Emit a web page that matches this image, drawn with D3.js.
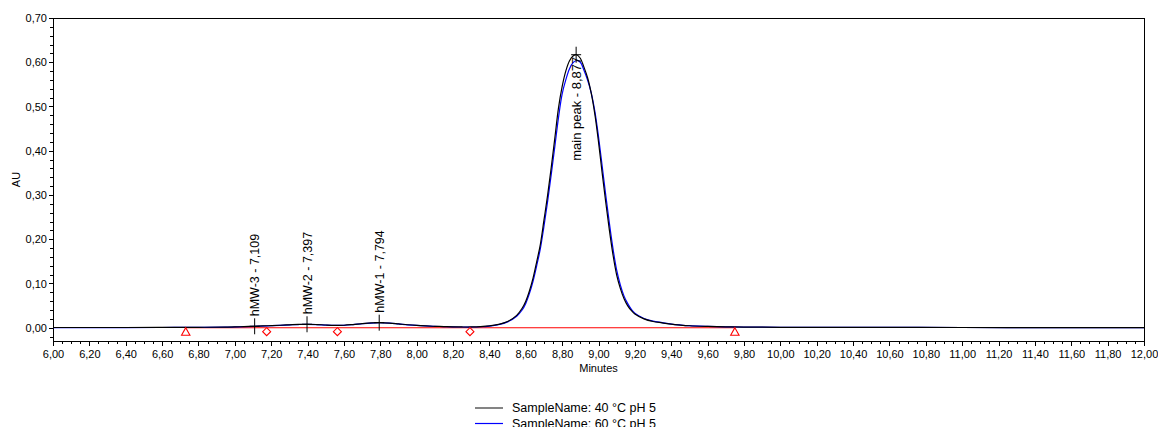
<!DOCTYPE html>
<html>
<head>
<meta charset="utf-8">
<script src="https://cdn.jsdelivr.net/npm/d3@7"></script>
<style>
  html, body { margin: 0; padding: 0; background: #fff; }
  svg { display: block; font-family: "Liberation Sans", Arial, sans-serif; }
</style>
</head>
<body>
<svg id="chart" width="1158" height="427"></svg>
<script>
// Retention times (minutes) and detector response (AU) for the two runs
const times = [6.00, 6.20, 6.40, 6.60, 6.80, 6.95, 7.00, 7.05, 7.109, 7.15, 7.20, 7.25, 7.30, 7.35, 7.397,
  7.45, 7.50, 7.55, 7.60, 7.65, 7.70, 7.75, 7.794, 7.85, 7.90, 7.95, 8.00, 8.05, 8.10, 8.15, 8.20, 8.25,
  8.30, 8.35, 8.40, 8.45, 8.50, 8.55, 8.58, 8.60, 8.62, 8.64, 8.66, 8.68, 8.70, 8.72, 8.74, 8.76, 8.78,
  8.80, 8.82, 8.84, 8.86, 8.88, 8.90, 8.92, 8.94, 8.96, 8.98, 9.00, 9.02, 9.04, 9.06, 9.08, 9.10, 9.12,
  9.14, 9.16, 9.18, 9.20, 9.25, 9.30, 9.35, 9.40, 9.45, 9.50, 9.60, 9.70, 9.80, 10.00, 10.50, 11.00,
  11.50, 12.00];

const au40 = [0.0005, 0.0005, 0.0005, 0.0006, 0.0010, 0.0015, 0.0018, 0.0025, 0.0033, 0.0040, 0.0047, 0.0056,
  0.0066, 0.0074, 0.0078, 0.0072, 0.0062, 0.0055, 0.0056, 0.0072, 0.0092, 0.0108, 0.0114, 0.0104, 0.0086,
  0.0067, 0.0052, 0.0041, 0.0032, 0.0025, 0.0020, 0.0017, 0.0017, 0.0024, 0.0040, 0.0075, 0.0140, 0.0280,
  0.0440, 0.0600, 0.0830, 0.1120, 0.1490, 0.1880, 0.2430, 0.2990, 0.3620, 0.4290, 0.4970, 0.5450, 0.5800,
  0.6030, 0.6140, 0.6170, 0.6090, 0.5890, 0.5650, 0.5300, 0.4820, 0.4200, 0.3500, 0.2830, 0.2200, 0.1640,
  0.1190, 0.0890, 0.0660, 0.0500, 0.0390, 0.0310, 0.0200, 0.0140, 0.0110, 0.0080, 0.0060, 0.0045, 0.0030,
  0.0020, 0.0015, 0.0010, 0.0007, 0.0005, 0.0004, 0.0003];

const au60 = [0.0004, 0.0004, 0.0004, 0.0005, 0.0009, 0.0014, 0.0017, 0.0023, 0.0031, 0.0038, 0.0045, 0.0054,
  0.0064, 0.0072, 0.0076, 0.0071, 0.0061, 0.0054, 0.0055, 0.0070, 0.0090, 0.0106, 0.0112, 0.0103, 0.0085,
  0.0066, 0.0051, 0.0040, 0.0031, 0.0024, 0.0019, 0.0016, 0.0016, 0.0022, 0.0038, 0.0070, 0.0132, 0.0260,
  0.0400, 0.0550, 0.0770, 0.1050, 0.1400, 0.1780, 0.2290, 0.2850, 0.3460, 0.4100, 0.4750, 0.5280, 0.5600,
  0.5850, 0.5990, 0.6040, 0.6000, 0.5820, 0.5600, 0.5310, 0.4890, 0.4320, 0.3660, 0.2990, 0.2360, 0.1780,
  0.1300, 0.0970, 0.0720, 0.0550, 0.0420, 0.0330, 0.0210, 0.0148, 0.0115, 0.0083, 0.0062, 0.0046, 0.0031,
  0.0021, 0.0015, 0.0010, 0.0007, 0.0005, 0.0004, 0.0003];

const seriesNames = ["SampleName: 40 °C pH 5", "SampleName: 60 °C pH 5"];
const seriesColors = ["#000000", "#0000ff"];

// Integrated peaks: name, apex time, apex height
const peakNames = ["hMW-3", "hMW-2", "hMW-1", "main peak"];
const peakTimes = [7.109, 7.397, 7.794, 8.877];
const peakHeights = [0.0033, 0.0078, 0.0114, 0.617];

// Integration baseline events
const baselineStart = 6.73;
const baselineEnd = 9.75;
const valleyTimes = [7.175, 7.564, 8.293];

// Axis ticks
const xMajor = d3.range(0, 31).map(i => 6 + i * 0.2);
const xMinor = d3.range(0, 121).map(i => 6 + i * 0.05);
const yMajor = d3.range(0, 8).map(i => i * 0.1);
const yMinor = d3.range(-1, 36).map(i => i * 0.02);

const locale = d3.formatLocale({ decimal: ",", thousands: ".", grouping: [3], currency: ["", ""] });
const fmt2 = locale.format(".2f");
const fmt3 = locale.format(".3f");

const svg = d3.select("#chart");
const W = 1158, H = 427;
const margin = { left: 53, right: 14, top: 18, bottom: 86 };
const x = d3.scaleLinear().domain([6, 12]).range([margin.left, W - margin.right]);
const y = d3.scaleLinear().domain([-0.03, 0.70]).range([H - margin.bottom, margin.top]);
const FONT = 11;

// Frame
svg.append("rect")
  .attr("x", x(6)).attr("y", y(0.70))
  .attr("width", x(12) - x(6)).attr("height", y(-0.03) - y(0.70))
  .attr("fill", "none").attr("stroke", "#000").attr("stroke-width", 1)
  .attr("shape-rendering", "crispEdges");

// X axis: minor then major ticks
const gxMinor = svg.append("g").attr("transform", `translate(0,${y(-0.03)})`)
  .call(d3.axisBottom(x).tickValues(xMinor).tickSize(3).tickFormat(""));
gxMinor.select(".domain").remove();
const gx = svg.append("g").attr("transform", `translate(0,${y(-0.03)})`)
  .call(d3.axisBottom(x).tickValues(xMajor).tickSize(5).tickPadding(4).tickFormat(fmt2));
gx.select(".domain").remove();
gx.selectAll("text").attr("font-size", FONT).attr("font-family", "Liberation Sans, Arial, sans-serif").attr("fill", "#000");

// Y axis
const gyMinor = svg.append("g").attr("transform", `translate(${x(6)},0)`)
  .call(d3.axisLeft(y).tickValues(yMinor).tickSize(3).tickFormat(""));
gyMinor.select(".domain").remove();
const gy = svg.append("g").attr("transform", `translate(${x(6)},0)`)
  .call(d3.axisLeft(y).tickValues(yMajor).tickSize(4).tickPadding(2).tickFormat(fmt2));
gy.select(".domain").remove();
gy.selectAll("text").attr("font-size", FONT).attr("font-family", "Liberation Sans, Arial, sans-serif").attr("fill", "#000");
svg.selectAll(".tick line").attr("stroke", "#000").attr("shape-rendering", "crispEdges");

// Axis titles
svg.append("text").attr("x", (x(6) + x(12)) / 2).attr("y", y(-0.03) + 31)
  .attr("text-anchor", "middle").attr("font-size", FONT).text("Minutes");
svg.append("text").attr("transform", `translate(20,${(y(0.70) + y(-0.03)) / 2}) rotate(-90)`)
  .attr("text-anchor", "middle").attr("font-size", FONT).text("AU");

// Integration baseline
svg.append("line")
  .attr("x1", x(baselineStart)).attr("x2", x(baselineEnd))
  .attr("y1", y(0)).attr("y2", y(0))
  .attr("stroke", "#ff0000").attr("stroke-width", 1.2);

// Traces
const line = d3.line().x(d => x(d[0])).y(d => y(d[1])).curve(d3.curveCatmullRom.alpha(0.5));
const traces = [au60, au40];
const traceColors = [seriesColors[1], seriesColors[0]];
traces.forEach((vals, k) => {
  svg.append("path")
    .datum(times.map((t, i) => [t, vals[i]]))
    .attr("d", line)
    .attr("fill", "none")
    .attr("stroke", traceColors[k])
    .attr("stroke-width", 1.2);
});

// Baseline start/end markers (triangles) and valley markers (diamonds)
const markerY = y(0) + 4;
[baselineStart, baselineEnd].forEach(t => {
  const cx = x(t);
  svg.append("path")
    .attr("d", `M${cx},${markerY - 4}L${cx + 4.2},${markerY + 3.5}L${cx - 4.2},${markerY + 3.5}Z`)
    .attr("fill", "#fff").attr("stroke", "#ff0000").attr("stroke-width", 1.1);
});
valleyTimes.forEach(t => {
  const cx = x(t);
  svg.append("path")
    .attr("d", `M${cx},${markerY - 4}L${cx + 4},${markerY}L${cx},${markerY + 4}L${cx - 4},${markerY}Z`)
    .attr("fill", "#fff").attr("stroke", "#ff0000").attr("stroke-width", 1.1);
});

// Peak apex marks and labels
peakTimes.forEach((t, i) => {
  const px = x(t), py = y(peakHeights[i]);
  const g = svg.append("g");
  g.append("line").attr("x1", px).attr("x2", px).attr("y1", py - 8).attr("y2", py + 8)
    .attr("stroke", "#000").attr("stroke-width", 1);
  g.append("line").attr("x1", px - 5).attr("x2", px + 5).attr("y1", py).attr("y2", py)
    .attr("stroke", "#000").attr("stroke-width", 1);
  const label = `${peakNames[i]} - ${fmt3(t)}`;
  const inside = peakHeights[i] > 0.3;
  g.append("text")
    .attr("transform", `translate(${px},${inside ? py + 2 : py - 10}) rotate(-90)`)
    .attr("dy", "0.36em")
    .attr("text-anchor", inside ? "end" : "start")
    .attr("font-size", inside ? 13 : 12.5)
    .text(label);
});

// Legend
const legend = svg.append("g").attr("transform", "translate(475,408)");
seriesNames.forEach((name, i) => {
  const row = legend.append("g").attr("transform", `translate(0,${i * 15.5})`);
  row.append("line").attr("x1", 0).attr("x2", 28).attr("y1", 0).attr("y2", 0)
    .attr("stroke", i === 0 ? "#333" : seriesColors[1]).attr("stroke-width", 1.2);
  row.append("text").attr("x", 37).attr("y", 0).attr("dy", "0.35em")
    .attr("font-size", 12.5).text(name);
});
</script>
</body>
</html>
